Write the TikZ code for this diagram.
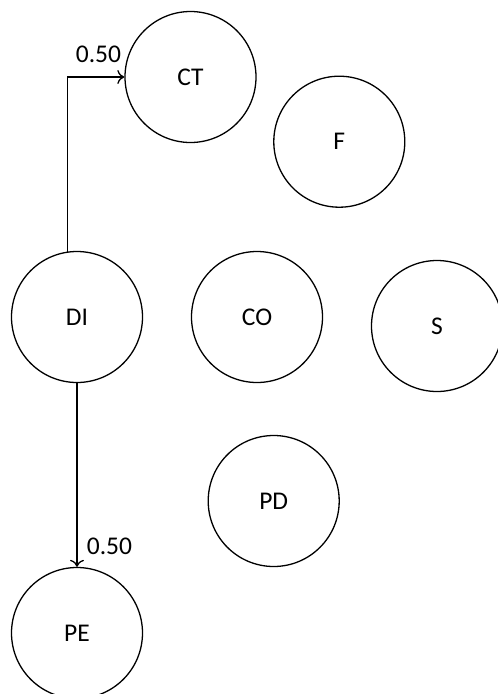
\documentclass[tikz,border=0pt]{standalone}
\usepackage{fontspec}
\setmainfont{Carlito}
\usetikzlibrary{arrows.meta}
\begin{document}
\begin{tikzpicture}[x=1pt,y=-1pt,
  state/.style={draw,circle,line width=1.3pt,minimum size=131pt,inner sep=0pt,font=\fontsize{25.5}{30}\selectfont},
  conn/.style={line width=1.3pt,-{To[length=7pt,width=14pt]}},
  lbl/.style={font=\fontsize{25.5}{30}\selectfont,inner sep=0pt}]
\useasboundingbox (0,0) rectangle (498,694);
\node[state] (CT) at (190.5,77) {CT};
\node[state] (F) at (339.3,141.7) {F};
\node[state] (DI) at (77,317) {DI};
\node[state] (CO) at (257,317) {CO};
\node[state] (S) at (437,326) {S};
\node[state] (PD) at (273.7,501) {PD};
\node[state] (PE) at (77,633) {PE};
\draw[conn] (DI.98) |- (CT.west);
\draw[conn] (DI.south) -- (PE.north);
\node[lbl] (l1) at (98.5,54) {0.50};
\node[lbl] (l2) at (109.5,546) {0.50};
\end{tikzpicture}
\end{document}
